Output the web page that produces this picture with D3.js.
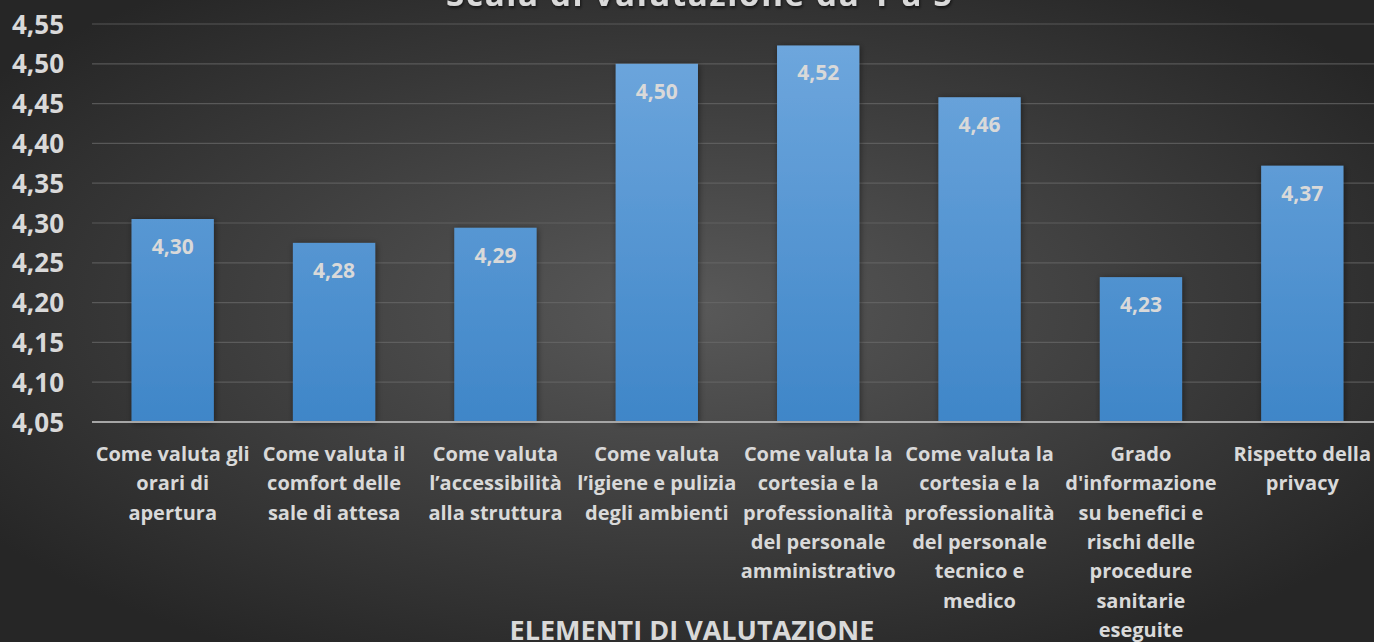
<!DOCTYPE html>
<html>
<head>
<meta charset="utf-8">
<script src="https://cdn.jsdelivr.net/npm/d3@7"></script>
<style>
  html, body { margin: 0; padding: 0; background: #2e2e2e; overflow: hidden; }
  text { font-family: "Open Sans", Lato, sans-serif; font-weight: bold; }
</style>
</head>
<body>
<div id="chart"></div>
<script>
// Chart values
const categories = [
    "Come valuta gli orari di apertura",
    "Come valuta il comfort delle sale di attesa",
    "Come valuta l\u2019accessibilità alla struttura",
    "Come valuta l\u2019igiene e pulizia degli ambienti",
    "Come valuta la cortesia e la professionalità del personale amministrativo",
    "Come valuta la cortesia e la professionalità del personale tecnico e medico",
    "Grado d'informazione su benefici e rischi delle procedure sanitarie eseguite",
    "Rispetto della privacy"
]
const categoryLines = [
    ["Come valuta gli", "orari di", "apertura"],
    ["Come valuta il", "comfort delle", "sale di attesa"],
    ["Come valuta", "l\u2019accessibilità", "alla struttura"],
    ["Come valuta", "l\u2019igiene e pulizia", "degli ambienti"],
    ["Come valuta la", "cortesia e la", "professionalità", "del personale", "amministrativo"],
    ["Come valuta la", "cortesia e la", "professionalità", "del personale", "tecnico e", "medico"],
    ["Grado", "d'informazione", "su benefici e", "rischi delle", "procedure", "sanitarie", "eseguite"],
    ["Rispetto della", "privacy"]
]
const values = [4.305, 4.275, 4.294, 4.500, 4.523, 4.458, 4.232, 4.372]
const valueLabels = ["4,30", "4,28", "4,29", "4,50", "4,52", "4,46", "4,23", "4,37"]
const yTicks = [4.05, 4.10, 4.15, 4.20, 4.25, 4.30, 4.35, 4.40, 4.45, 4.50, 4.55]
const chartTitle = "Scala di valutazione da 1 a 5"
const xAxisTitle = "ELEMENTI DI VALUTAZIONE"

const WIDTH = 1374
const HEIGHT = 642
const PLOT = {LEFT: 92, RIGHT: 1383, TOP: 24, BOTTOM: 422}
const TEXT = "#d9d9d9"

let svg = d3.select("#chart").append("svg")
    .attr("width", WIDTH)
    .attr("height", HEIGHT)

let defs = svg.append("defs")

// Dark radial background
let bg = defs.append("radialGradient")
    .attr("id", "bg")
    .attr("cx", "50%").attr("cy", "48%").attr("r", "62%")
bg.append("stop").attr("offset", "0%").attr("stop-color", "#595959")
bg.append("stop").attr("offset", "100%").attr("stop-color", "#262626")

// Blue bar gradient
let barGrad = defs.append("linearGradient")
    .attr("id", "barGrad")
    .attr("gradientUnits", "userSpaceOnUse")
    .attr("x1", 0).attr("y1", PLOT.TOP).attr("x2", 0).attr("y2", PLOT.BOTTOM)
barGrad.append("stop").attr("offset", "0%").attr("stop-color", "#70a8de")
barGrad.append("stop").attr("offset", "100%").attr("stop-color", "#3f86c8")

let shadow = defs.append("filter").attr("id", "shadow")
    .attr("x", "-20%").attr("y", "-20%").attr("width", "140%").attr("height", "140%")
shadow.append("feDropShadow")
    .attr("dx", 1).attr("dy", 1).attr("stdDeviation", 3)
    .attr("flood-color", "#000").attr("flood-opacity", 0.45)

let textShadow = defs.append("filter").attr("id", "tshadow")
textShadow.append("feDropShadow")
    .attr("dx", 1).attr("dy", 2).attr("stdDeviation", 1.5)
    .attr("flood-color", "#000").attr("flood-opacity", 0.6)

svg.append("rect")
    .attr("width", WIDTH).attr("height", HEIGHT)
    .attr("fill", "url(#bg)")

// Scales
let xScale = d3.scaleBand()
    .domain(categories)
    .range([PLOT.LEFT, PLOT.RIGHT])
    .paddingInner(0.49)
    .paddingOuter(0.245)

let yScale = d3.scaleLinear()
    .domain([4.05, 4.55])
    .range([PLOT.BOTTOM, PLOT.TOP])

// Gridlines
svg.append("g")
    .selectAll("line")
    .data(yTicks.slice(1))
    .join("line")
        .attr("x1", PLOT.LEFT)
        .attr("x2", WIDTH)
        .attr("y1", d => yScale(d))
        .attr("y2", d => yScale(d))
        .attr("stroke", "#6a6a6a")
        .attr("stroke-opacity", 0.7)
        .attr("stroke-width", 1.2)

// Y axis labels
let yAxis = svg.append("g")
    .attr("transform", "translate(" + (PLOT.LEFT - 28) + ",0)")
    .call(d3.axisLeft(yScale).tickValues(yTicks).tickSize(0).tickPadding(0)
        .tickFormat(d => d3.format(".2f")(d).replace(".", ",")))
yAxis.select(".domain").remove()
yAxis.selectAll("text")
    .attr("fill", TEXT)
    .style("font-size", "26px")
    .attr("dy", "0.35em")

// Bars
svg.append("g")
    .selectAll("rect")
    .data(values)
    .join("rect")
        .attr("x", (d, i) => xScale(categories[i]))
        .attr("y", d => yScale(d))
        .attr("width", xScale.bandwidth())
        .attr("height", d => yScale(4.05) - yScale(d))
        .attr("fill", "url(#barGrad)")
        .attr("filter", "url(#shadow)")

// Baseline
svg.append("line")
    .attr("x1", PLOT.LEFT).attr("x2", WIDTH)
    .attr("y1", PLOT.BOTTOM).attr("y2", PLOT.BOTTOM)
    .attr("stroke", "#a6a6a6")
    .attr("stroke-width", 2)

// Value labels inside bars
svg.append("g")
    .selectAll("text")
    .data(values)
    .join("text")
        .attr("x", (d, i) => xScale(categories[i]) + xScale.bandwidth() / 2)
        .attr("y", d => yScale(d) + 35)
        .attr("text-anchor", "middle")
        .attr("fill", TEXT)
        .style("font-size", "21px")
        .text((d, i) => valueLabels[i])

// Category labels
let catGroup = svg.append("g")
categories.forEach((c, i) => {
    let t = catGroup.append("text")
        .attr("x", xScale(c) + xScale.bandwidth() / 2)
        .attr("y", 461)
        .attr("text-anchor", "middle")
        .attr("fill", TEXT)
        .style("font-size", "20px")
    categoryLines[i].forEach((line, j) => {
        t.append("tspan")
            .attr("x", xScale(c) + xScale.bandwidth() / 2)
            .attr("dy", j == 0 ? 0 : 29.3)
            .text(line)
    })
})

// Titles
svg.append("text")
    .attr("x", 700)
    .attr("y", 6)
    .attr("text-anchor", "middle")
    .attr("fill", TEXT)
    .attr("filter", "url(#tshadow)")
    .style("font-size", "33px")
    .style("letter-spacing", "1.7px")
    .text(chartTitle)

svg.append("text")
    .attr("x", 692)
    .attr("y", 640)
    .attr("text-anchor", "middle")
    .attr("fill", TEXT)
    .style("font-size", "27px")
    .text(xAxisTitle)
</script>
</body>
</html>
